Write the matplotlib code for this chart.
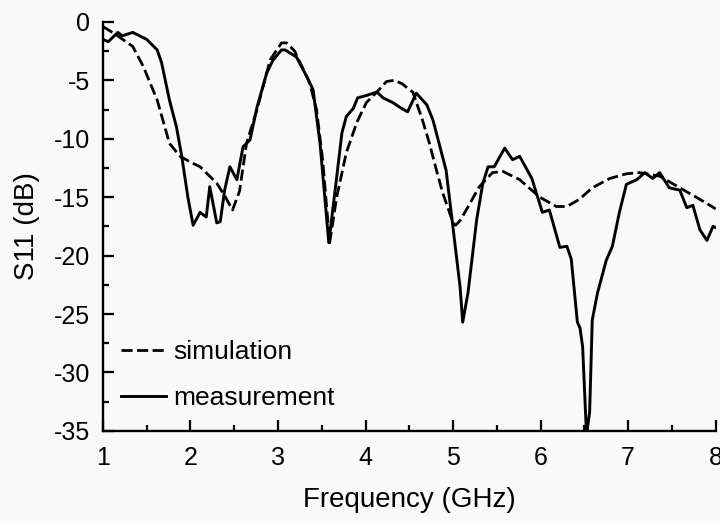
import matplotlib
matplotlib.use("Agg")
import matplotlib.pyplot as plt
from matplotlib.ticker import MultipleLocator

plt.rcParams['font.family'] = ['Liberation Sans', 'DejaVu Sans']
plt.rcParams['axes.unicode_minus'] = False

# simulated S11 (dB) vs frequency (GHz)
sim_f = [1.0, 1.15, 1.34, 1.46, 1.62, 1.76, 1.88, 2.0, 2.11, 2.3, 2.4, 2.48, 2.56,
         2.64, 2.76, 2.91, 3.04, 3.1, 3.19, 3.36, 3.44, 3.51, 3.59, 3.67, 3.78,
         3.9, 4.01, 4.13, 4.24, 4.33, 4.42, 4.5, 4.54, 4.65, 4.73, 4.81, 4.88,
         5.0, 5.03, 5.08, 5.15, 5.3, 5.45, 5.57, 5.76, 5.99, 6.18, 6.3, 6.44,
         6.59, 6.79, 6.98, 7.13, 7.36, 7.59, 7.8, 8.0]
sim_db = [-0.4, -1.1, -2.1, -3.8, -6.7, -10.4, -11.5, -12.0, -12.4, -13.8, -15.0, -16.1, -14.5,
          -10.4, -7.5, -3.25, -1.8, -1.8, -2.5, -5.2, -7.5, -11.8, -18.9, -15.0, -11.2,
          -8.6, -6.9, -6.0, -5.1, -5.0, -5.3, -5.8, -6.0, -8.4, -10.4, -12.7, -14.6,
          -17.2, -17.4, -17.0, -16.1, -14.1, -12.9, -12.8, -13.5, -15.0, -15.8, -15.8, -15.2,
          -14.2, -13.4, -13.0, -12.9, -13.2, -14.2, -15.1, -16.0]

# measured S11 (dB) vs frequency (GHz)
meas_f = [1.0, 1.06, 1.17, 1.22, 1.34, 1.5, 1.62, 1.67, 1.76, 1.84, 1.9, 1.97,
          2.03, 2.11, 2.18, 2.22, 2.3, 2.34, 2.39, 2.45, 2.53, 2.6, 2.68, 2.76,
          2.87, 2.94, 3.04, 3.08, 3.21, 3.33, 3.4, 3.48, 3.58, 3.67, 3.73, 3.78,
          3.86, 3.91, 4.01, 4.13, 4.2, 4.31, 4.39, 4.48, 4.58, 4.7, 4.77, 4.92,
          4.98, 5.08, 5.11, 5.17, 5.27, 5.34, 5.4, 5.47, 5.59, 5.68, 5.76, 5.9,
          6.02, 6.1, 6.22, 6.3, 6.35, 6.42, 6.45, 6.48, 6.52, 6.53, 6.56, 6.59,
          6.65, 6.75, 6.82, 6.9, 6.98, 7.1, 7.19, 7.28, 7.36, 7.47, 7.59, 7.67,
          7.74, 7.82, 7.9, 7.97, 8.0]
meas_db = [-1.5, -1.7, -0.9, -1.2, -0.9, -1.5, -2.4, -3.5, -6.7, -9.0, -11.5, -15.0,
           -17.4, -16.3, -16.7, -14.1, -17.2, -17.1, -14.4, -12.4, -13.5, -10.7, -10.1, -7.3,
           -4.4, -3.3, -2.4, -2.4, -3.0, -4.7, -5.8, -10.4, -18.9, -13.3, -9.5, -8.1,
           -7.4, -6.5, -6.3, -6.0, -6.5, -6.9, -7.3, -7.7, -6.1, -7.1, -8.4, -12.7,
           -16.4, -22.7, -25.7, -23.2, -16.9, -13.8, -12.4, -12.4, -10.8, -11.8, -11.5, -13.4,
           -16.3, -16.1, -19.3, -19.2, -20.3, -25.7, -26.2, -27.8, -34.6, -35.0, -33.4, -25.5,
           -23.2, -20.4, -19.2, -16.3, -13.9, -13.5, -12.9, -13.4, -12.9, -14.2, -14.4, -15.9,
           -15.7, -17.8, -18.7, -17.5, -17.6]

fig = plt.figure(figsize=(7.2, 5.21), dpi=100, facecolor='#f9f9f9')
ax = fig.add_axes([0.143, 0.173, 0.851, 0.785])
ax.set_facecolor('#f9f9f9')

ax.plot(sim_f, sim_db, color='black', lw=2.0, linestyle=(0, (4, 1.6)), label='simulation')
ax.plot(meas_f, meas_db, color='black', lw=2.1, label='measurement')

ax.set_xlim(1, 8)
ax.set_ylim(-35, 0)
ax.xaxis.set_major_locator(MultipleLocator(1))
ax.xaxis.set_minor_locator(MultipleLocator(0.5))
ax.yaxis.set_major_locator(MultipleLocator(5))
ax.yaxis.set_minor_locator(MultipleLocator(2.5))
ax.tick_params(which='both', direction='in', width=1.6)
ax.tick_params(which='major', length=8, labelsize=18)
ax.tick_params(which='minor', length=4.5)
ax.tick_params(axis='x', which='major', pad=11)
ax.tick_params(axis='y', which='major', pad=9)
for s in ['top', 'right']:
    ax.spines[s].set_visible(False)
for s in ['left', 'bottom']:
    ax.spines[s].set_linewidth(1.7)

ax.set_xlabel('Frequency (GHz)', fontsize=20, labelpad=12)
ax.set_ylabel('S11 (dB)', fontsize=20, labelpad=10)

ax.legend(loc='lower left', frameon=False, fontsize=19, handlelength=1.7,
          handletextpad=0.3, labelspacing=0.85, borderpad=0, borderaxespad=0,
          bbox_to_anchor=(0.029, 0.05))

fig.savefig('out.png', dpi=100, facecolor=fig.get_facecolor())
